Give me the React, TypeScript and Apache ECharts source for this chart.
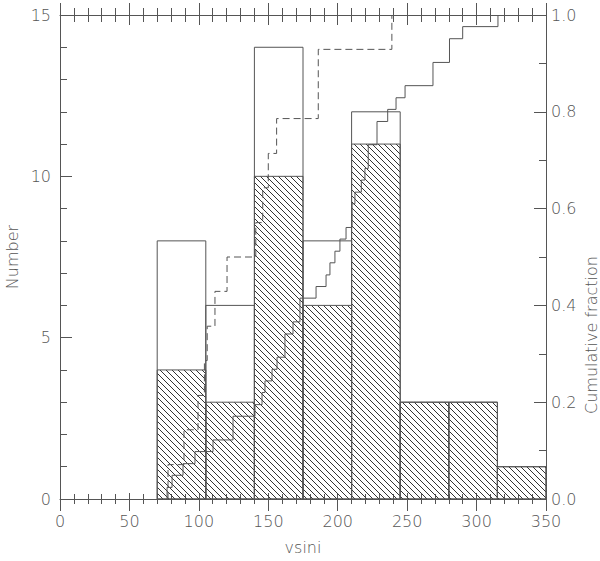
import React, { useEffect, useRef } from "react";
import * as echarts from "echarts";

// Histogram bins (vsini)
const binStart = [70, 105, 140, 175, 210, 245, 280, 315];
const binEnd = [105, 140, 175, 210, 245, 280, 315, 350];
// Open (total) histogram counts
const totalCounts = [8, 6, 14, 8, 12, 3, 3, 1];
// Hatched histogram counts
const hatchedCounts = [4, 3, 10, 6, 11, 3, 3, 1];

// Solid cumulative curve: vsini at each step and cumulative fraction reached
const solidV = [77.1, 77.1, 80.7, 88.6, 97.2, 110.2, 124.6, 140.4, 145.5, 147.6, 152.7, 156.3, 162.0, 167.8, 172.8, 184.4, 191.6, 194.4, 198.0, 201.6, 206.0, 210.3, 212.4, 217.0, 219.6, 222.0, 228.3, 236.0, 242.0, 248.5, 268.6, 280.5, 290.0, 315.4];
const solidF = [0.0, 0.024, 0.049, 0.073, 0.098, 0.122, 0.171, 0.195, 0.22, 0.244, 0.268, 0.293, 0.341, 0.366, 0.415, 0.439, 0.463, 0.488, 0.512, 0.537, 0.561, 0.61, 0.634, 0.659, 0.683, 0.732, 0.78, 0.805, 0.829, 0.854, 0.902, 0.951, 0.976, 1.0];

// Dashed cumulative curve
const dashedV = [77.8, 77.8, 89.3, 99.4, 104.0, 106.0, 111.6, 120.3, 141.0, 146.0, 150.0, 156.0, 186.0, 239.0];
const dashedF = [0.0, 0.071, 0.143, 0.214, 0.286, 0.357, 0.429, 0.5, 0.571, 0.643, 0.714, 0.786, 0.929, 1.0];

const xTickMin = 0, xTickMax = 350, xTickStep = 50;
const yLeftMin = 0, yLeftMax = 15, yLeftStep = 5;
const yRightMin = 0, yRightMax = 1, yRightStep = 0.2;

const INK = "#555";
const FONT = "DejaVu Sans";

function makeHatch() {
  const c = document.createElement("canvas");
  c.width = 6;
  c.height = 6;
  const ctx = c.getContext("2d")!;
  ctx.strokeStyle = "#333";
  ctx.lineWidth = 1;
  ctx.beginPath();
  ctx.moveTo(-1, -1);
  ctx.lineTo(7, 7);
  ctx.moveTo(-1, 5);
  ctx.lineTo(1, 7);
  ctx.moveTo(5, -1);
  ctx.lineTo(7, 1);
  ctx.stroke();
  return c;
}

export default function App() {
  const ref = useRef<HTMLDivElement>(null);
  useEffect(() => {
    if (!ref.current) return;
    const chart = echarts.init(ref.current, undefined, { renderer: "svg" });
    const hatch = makeHatch();
    const totalData = binStart.map((s, i) => [s, binEnd[i], totalCounts[i]]);
    const hatchData = binStart.map((s, i) => [s, binEnd[i], hatchedCounts[i]]);
    const makeRender = (hatched: boolean) => (params: any, api: any) => {
      const p0 = api.coord([api.value(0), api.value(2)]);
      const p1 = api.coord([api.value(1), 0]);
      return {
        type: "rect",
        shape: { x: p0[0], y: p0[1], width: p1[0] - p0[0], height: p1[1] - p0[1] },
        style: {
          fill: hatched ? { image: hatch, repeat: "repeat", imageWidth: 6, imageHeight: 6 } : "none",
          stroke: INK,
          lineWidth: 1,
        },
      };
    };
    const baseX = {
      type: "value",
      min: xTickMin,
      max: xTickMax,
      interval: xTickStep,
      splitLine: { show: false },
      minorSplitLine: { show: false },
    };
    const axisLabelStyle = { color: INK, fontFamily: FONT, fontWeight: 200, fontSize: 16 };
    chart.setOption({
      animation: false,
      grid: { left: 60, right: 54, top: 15, bottom: 62 },
      xAxis: [
        {
          ...baseX,
          position: "bottom",
          axisLine: { show: true, onZero: false, lineStyle: { color: INK, width: 1 } },
          axisTick: { show: true, inside: false, length: 12, lineStyle: { color: INK } },
          minorTick: { show: true, splitNumber: 5, length: 5, lineStyle: { color: INK } },
          axisLabel: { ...axisLabelStyle, margin: 14 },
          name: "vsini",
          nameLocation: "middle",
          nameGap: 40,
          nameTextStyle: { ...axisLabelStyle },
        },
        {
          ...baseX,
          position: "bottom",
          axisLine: { show: false, onZero: false },
          axisTick: { show: true, inside: true, length: 6, lineStyle: { color: INK } },
          minorTick: { show: true, splitNumber: 5, length: 5, lineStyle: { color: INK } },
          axisLabel: { show: false },
        },
        {
          ...baseX,
          position: "top",
          axisLine: { show: true, onZero: false, lineStyle: { color: INK, width: 1 } },
          axisTick: { show: true, inside: false, length: 12, lineStyle: { color: INK } },
          minorTick: { show: true, splitNumber: 5, length: 7, lineStyle: { color: INK } },
          axisLabel: { show: false },
        },
        {
          ...baseX,
          position: "top",
          axisLine: { show: false, onZero: false },
          axisTick: { show: true, inside: true, length: 10, lineStyle: { color: INK } },
          minorTick: { show: true, splitNumber: 5, length: 7, lineStyle: { color: INK } },
          axisLabel: { show: false },
        },
      ],
      yAxis: [
        {
          type: "value",
          position: "left",
          min: yLeftMin,
          max: yLeftMax,
          interval: yLeftStep,
          splitLine: { show: false },
          axisLine: { show: true, onZero: false, lineStyle: { color: INK, width: 1 } },
          axisTick: { show: true, inside: true, length: 12, lineStyle: { color: INK } },
          minorTick: { show: true, splitNumber: 5, length: 7, lineStyle: { color: INK } },
          axisLabel: { ...axisLabelStyle, margin: 9 },
        },
        {
          type: "value",
          position: "right",
          min: yRightMin,
          max: yRightMax,
          interval: yRightStep,
          splitLine: { show: false },
          axisLine: { show: true, onZero: false, lineStyle: { color: INK, width: 1 } },
          axisTick: { show: true, inside: true, length: 12, lineStyle: { color: INK } },
          minorTick: { show: true, splitNumber: 2, length: 7, lineStyle: { color: INK } },
          axisLabel: { ...axisLabelStyle, margin: 5, formatter: (v: number) => v.toFixed(1) },
        },
      ],
      graphic: [
        {
          type: "text",
          x: 12,
          y: 257,
          rotation: Math.PI / 2,
          style: { text: "Number", fill: INK, font: `200 16px "${FONT}"`, align: "center", verticalAlign: "middle" },
        },
        {
          type: "text",
          x: 591,
          y: 335,
          rotation: Math.PI / 2,
          style: { text: "Cumulative fraction", fill: INK, font: `200 16px "${FONT}"`, align: "center", verticalAlign: "middle" },
        },
      ],
      series: [
        {
          type: "custom",
          xAxisIndex: 0,
          yAxisIndex: 0,
          renderItem: makeRender(false),
          encode: { x: [0, 1], y: 2 },
          data: totalData,
          z: 1,
        },
        {
          type: "custom",
          xAxisIndex: 0,
          yAxisIndex: 0,
          renderItem: makeRender(true),
          encode: { x: [0, 1], y: 2 },
          data: hatchData,
          z: 2,
        },
        {
          type: "line",
          xAxisIndex: 0,
          yAxisIndex: 1,
          step: "end",
          symbol: "none",
          lineStyle: { color: INK, width: 1 },
          data: solidV.map((v, i) => [v, solidF[i]]),
          z: 3,
        },
        {
          type: "line",
          xAxisIndex: 0,
          yAxisIndex: 1,
          step: "end",
          symbol: "none",
          lineStyle: { color: INK, width: 1, type: [7, 4] },
          data: dashedV.map((v, i) => [v, dashedF[i]]),
          z: 3,
        },
      ],
    });
    return () => chart.dispose();
  }, []);
  return (
    <div
      ref={ref}
      style={{ position: "fixed", left: 0, top: 0, width: 600, height: 561, background: "#fff" }}
    />
  );
}
